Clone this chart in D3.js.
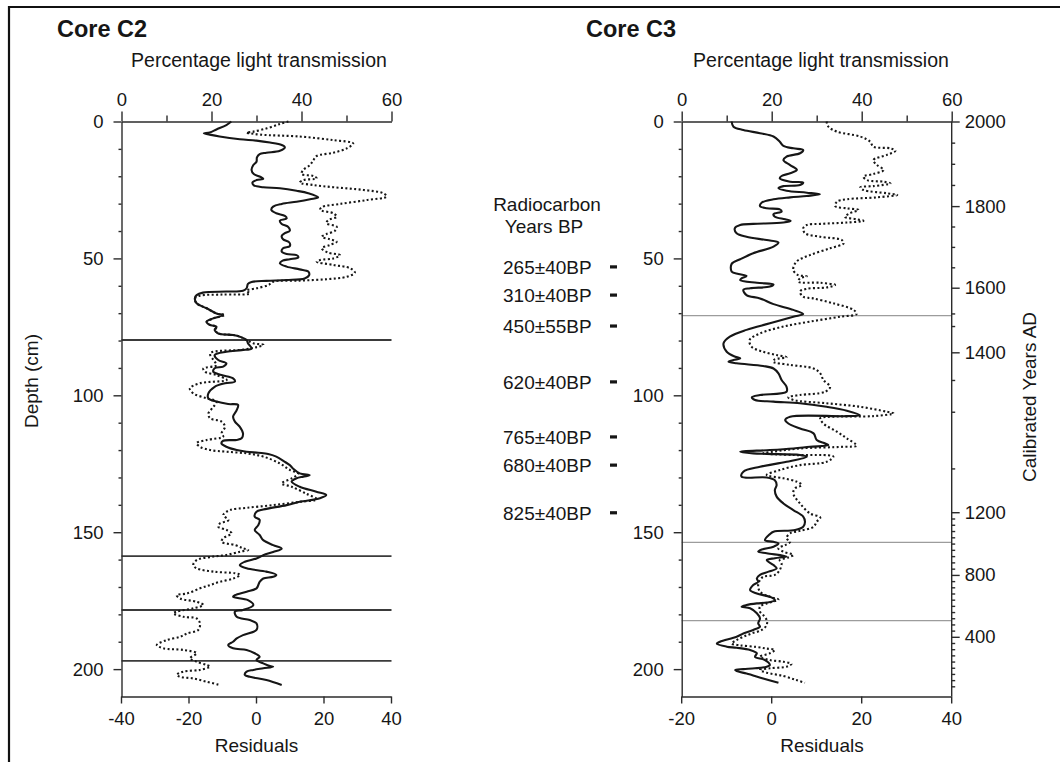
<!DOCTYPE html>
<html>
<head>
<meta charset="utf-8">
<title>Cores C2 and C3: light transmission profiles</title>
<script src="https://cdn.jsdelivr.net/npm/d3@7"></script>
<style>
  html, body { margin: 0; padding: 0; background: #fff; }
  svg { display: block; }
</style>
</head>
<body>
<svg id="chart" width="1060" height="762"></svg>
<script>
// ---------------------------------------------------------------
// Profiles: [depth (cm), value]
// Solid line = percentage light transmission (top axis)
// Dotted line = residuals (bottom axis)
// ---------------------------------------------------------------
const c2Transmission = [
  [0,24.4],[1.3,23.3],[2.9,21.1],[4.0,19.6],[4.3,18.3],[4.8,19.6],[5.5,21.8],[6.5,26.3],[7.0,30.0],[7.7,33.0],
  [8.6,35.6],[9.4,36.3],[10.7,35.2],[11.4,32.2],[11.9,30.7],[13.1,30.1],[14.7,30.0],[15.9,29.3],[17.7,28.9],[19.2,29.4],
  [20.1,30.7],[20.9,31.5],[21.4,30.0],[22.3,29.1],[23.3,29.4],[24.0,31.5],[24.4,35.2],[25.3,38.9],[26.2,41.5],[27.7,43.7],
  [28.4,41.9],[29.3,38.9],[30.1,35.6],[31.1,33.7],[32.3,33.3],[33.5,34.4],[34.5,36.3],[35.4,36.7],[36.2,35.2],[37.4,35.6],
  [38.4,37.0],[39.9,37.4],[40.8,36.3],[41.8,35.6],[43.0,35.9],[44.2,37.3],[45.5,37.4],[46.3,35.9],[47.5,35.6],[48.4,36.7],
  [48.8,38.9],[49.6,39.3],[50.3,37.4],[50.8,35.8],[51.8,35.2],[53.0,36.7],[54.0,39.6],[54.8,41.5],[56.1,41.7],[57.3,40.7],
  [57.9,36.7],[58.2,32.2],[58.6,28.9],[59.3,28.1],[60.9,27.8],[61.8,27.0],[62.1,23.3],[62.5,18.1],[63.4,16.7],[64.6,16.3],
  [66.4,16.7],[68.2,18.9],[70.1,21.1],[70.7,22.6],[71.9,20.4],[73.1,18.9],[74.3,19.6],[74.9,21.1],[76.2,20.7],[77.4,21.5],
  [78.0,24.8],[78.6,26.3],[79.8,27.8],[81.0,28.1],[82.9,28.9],[83.5,26.7],[84.1,23.3],[85.3,20.7],[87.1,21.5],[88.3,23.3],
  [89.5,22.6],[90.1,20.7],[91.4,20.4],[92.6,22.2],[93.8,24.8],[95.0,25.2],[95.6,23.0],[96.9,20.7],[99.3,19.3],[101.1,19.3],
  [102.3,21.1],[103.2,23.7],[103.5,25.9],[105.4,25.6],[107.8,24.8],[109.6,25.2],[111.5,26.3],[113.9,27.0],[115.7,26.7],[116.3,25.6],
  [116.6,22.6],[117.5,22.2],[118.8,23.3],[120.0,25.6],[120.6,27.8],[121.0,30.4],[121.4,32.6],[122.4,34.4],[124.3,36.3],[125.5,37.4],
  [126.7,38.1],[128.5,39.6],[129.2,41.8],[129.7,40.4],[130.3,38.9],[131.5,37.8],[133.4,39.6],[135.2,43.3],[136.4,45.5],[137.6,44.1],
  [138.9,39.6],[140.1,36.7],[141.7,31.5],[142.5,30.0],[144.3,29.6],[145.5,30.7],[147.4,30.4],[149.2,29.6],[151.0,30.7],[152.9,31.5],
  [154.7,33.7],[156.0,35.6],[157.2,33.7],[158.4,31.5],[159.6,30.0],[160.8,27.4],[162.0,26.3],[163.2,27.8],[164.4,32.2],[165.6,34.4],
  [166.3,33.7],[166.9,31.5],[168.1,30.7],[170.5,30.0],[171.7,27.8],[173.0,25.2],[173.6,24.8],[174.8,28.1],[176.6,29.3],[178.4,27.0],
  [179.0,25.2],[180.9,25.6],[182.1,28.5],[183.3,30.0],[185.7,30.0],[187.6,27.0],[188.8,25.6],[190.0,24.8],[191.2,23.7],[192.4,24.8],
  [193.0,27.8],[194.2,29.6],[195.5,30.7],[196.7,30.0],[197.9,31.5],[198.9,33.0],[199.1,33.7],[199.7,31.5],[200.3,29.3],[200.9,27.8],
  [202.1,27.4],[202.8,28.5],[204.0,32.2],[205.8,35.6]
];

const c2Residuals = [
  [0,9.6],[0.9,7.1],[2.5,3.2],[3.7,-0.8],[4.1,-2.8],[4.3,-1.8],[4.8,1.2],[5.5,13.0],[6.8,22.9],[8.0,28.8],
  [9.8,26.9],[11.4,22.9],[12.6,18.0],[14.1,17.0],[15.9,16.0],[17.7,14.0],[19.2,13.5],[19.9,17.0],[20.8,18.0],[21.4,14.0],
  [22.3,13.0],[23.2,17.0],[24.0,22.9],[25.0,31.8],[26.2,37.7],[27.4,38.7],[28.7,32.8],[30.1,24.9],[31.3,19.5],[32.3,19.0],
  [33.5,22.9],[34.8,23.9],[36.0,21.4],[37.2,20.9],[38.4,23.9],[39.9,23.4],[41.1,20.9],[42.1,19.5],[43.0,21.9],[43.9,23.9],
  [45.1,21.9],[46.3,19.5],[47.9,21.4],[48.8,24.9],[50.0,22.9],[50.6,19.0],[51.2,18.0],[52.4,22.9],[53.6,27.9],[55.2,29.3],
  [56.7,26.9],[57.6,20.9],[58.1,13.0],[58.5,5.1],[59.7,3.7],[60.9,0.2],[61.8,-2.8],[62.8,-1.8],[63.2,-10.0],[63.6,-16.6],
  [64.6,-18.1],[66.4,-17.6],[68.2,-14.6],[70.1,-11.7],[70.6,-9.2],[71.9,-12.6],[73.1,-14.6],[74.3,-13.6],[74.9,-11.7],[76.2,-12.1],
  [77.4,-11.2],[78.0,-6.7],[78.6,-4.7],[79.8,-2.8],[81.0,-0.8],[81.6,2.2],[82.4,0.2],[83.3,-3.8],[84.7,-13.6],[87.1,-12.6],
  [89.0,-11.7],[90.2,-15.6],[91.4,-15.1],[92.6,-11.7],[94.4,-8.7],[95.6,-16.6],[97.5,-19.6],[99.3,-18.6],[101.1,-14.6],[102.3,-11.7],
  [104.2,-12.6],[106.6,-14.1],[108.4,-13.6],[109.6,-10.2],[111.5,-9.2],[113.9,-10.2],[115.1,-9.7],[116.3,-14.6],[117.5,-17.6],[118.8,-16.6],
  [120.0,-13.6],[120.6,-8.7],[121.2,-2.8],[122.4,2.2],[124.9,7.1],[127.3,10.1],[128.6,12.5],[130.3,10.6],[132.2,7.6],[133.4,10.6],
  [136.0,15.0],[138.0,18.0],[138.9,13.0],[140.1,5.1],[141.1,-2.8],[141.9,-7.7],[143.7,-9.7],[145.6,-8.2],[146.8,-10.7],[148.0,-11.2],
  [149.2,-8.7],[150.4,-7.2],[152.2,-9.7],[153.5,-10.2],[154.7,-6.2],[155.9,-3.8],[156.5,-2.3],[157.1,-4.7],[158.3,-8.7],[158.9,-12.6],
  [160.2,-17.6],[162.0,-18.6],[163.2,-17.6],[164.4,-12.6],[165.0,-6.2],[165.6,-4.7],[166.9,-6.7],[168.1,-10.7],[169.3,-13.6],[170.5,-16.6],
  [172.4,-20.5],[173.0,-23.5],[174.2,-22.5],[175.4,-17.6],[176.6,-15.6],[177.8,-18.6],[179.0,-23.5],[179.6,-24.5],[180.9,-21.5],[181.5,-17.6],
  [183.3,-16.6],[185.7,-17.1],[187.0,-20.5],[188.2,-22.5],[189.4,-26.5],[191.2,-29.4],[192.4,-27.5],[193.0,-21.5],[194.2,-17.6],[196.1,-19.6],
  [197.3,-17.6],[198.5,-14.6],[199.1,-13.6],[200.3,-16.6],[200.9,-21.5],[202.1,-23.5],[202.8,-22.5],[203.4,-18.6],[204.6,-14.6],[205.8,-10.7]
];

const c3Transmission = [
  [0,11.1],[1.9,11.5],[3.1,13.7],[4.3,17.4],[5.5,20.4],[7.4,21.8],[8.9,22.6],[9.8,24.8],[10.4,27.0],[11.6,26.3],
  [12.8,23.3],[14.1,22.6],[15.9,24.1],[17.7,25.6],[18.9,24.1],[19.9,22.2],[20.8,21.8],[22.0,24.1],[22.3,27.0],[23.2,26.3],
  [23.6,22.6],[24.4,21.5],[25.3,23.3],[26.0,27.8],[26.6,30.7],[27.2,27.8],[27.7,24.1],[28.4,20.4],[29.6,17.8],[30.9,17.4],
  [31.7,18.9],[32.1,21.8],[32.9,22.2],[33.8,20.4],[34.8,20.7],[35.7,23.0],[36.3,24.2],[36.9,22.6],[37.4,15.9],[37.8,13.0],
  [39.0,11.8],[40.8,12.2],[42.1,14.4],[43.3,18.9],[44.2,21.5],[45.7,20.4],[48.1,15.9],[50.3,13.0],[52.0,11.1],[54.8,11.1],
  [55.7,12.6],[56.4,14.4],[57.3,13.3],[57.9,13.0],[58.9,16.7],[59.5,20.4],[60.3,19.6],[60.9,15.2],[61.5,13.7],[63.4,14.4],
  [64.6,17.4],[66.7,20.4],[68.8,24.8],[70.3,27.0],[71.3,24.8],[73.7,19.6],[76.1,14.4],[78.6,10.7],[81.0,9.3],[84.1,10.0],
  [85.9,11.9],[86.5,13.0],[87.1,11.5],[87.7,10.4],[88.3,12.2],[89.3,18.1],[90.2,20.4],[92.0,21.5],[94.4,22.2],[96.9,23.3],
  [98.7,23.3],[99.9,17.4],[100.7,15.6],[101.7,16.3],[102.3,20.4],[102.9,26.3],[104.2,32.2],[105.6,36.7],[107.2,39.6],[107.6,36.7],
  [107.8,24.1],[109.0,23.0],[110.3,23.7],[112.1,26.3],[113.9,29.3],[116.3,30.0],[117.6,31.9],[118.2,32.6],[118.8,28.5],[119.4,24.8],
  [120.0,19.6],[120.6,13.0],[121.2,15.9],[121.4,18.9],[121.8,26.3],[122.4,27.8],[124.3,23.3],[126.1,17.4],[127.9,13.7],[129.7,13.3],
  [130.0,18.9],[131.0,20.7],[132.8,21.1],[134.6,20.7],[137.0,21.1],[139.5,22.6],[141.9,24.8],[144.3,27.0],[146.2,27.4],[148.0,27.0],
  [149.2,25.2],[149.8,20.4],[150.7,19.6],[152.9,18.5],[153.5,20.4],[154.1,21.5],[155.3,20.4],[156.3,17.8],[157.1,17.0],[157.7,18.9],
  [158.9,23.3],[159.5,20.7],[160.2,18.9],[162.0,20.4],[163.2,21.1],[164.4,19.3],[165.6,17.4],[166.9,16.7],[168.1,17.0],[169.3,15.9],
  [171.1,15.2],[172.4,16.7],[173.6,19.6],[174.8,20.7],[175.7,18.9],[176.0,16.7],[176.6,14.4],[177.2,13.3],[177.8,15.2],[179.6,16.7],
  [181.5,17.4],[183.3,17.0],[184.5,17.4],[185.7,15.9],[187.0,13.7],[188.2,12.2],[190.0,8.5],[190.7,7.8],[191.8,10.0],[192.2,12.2],
  [193.0,15.2],[194.2,16.7],[195.5,16.3],[196.7,18.5],[198.5,19.6],[199.1,18.9],[199.7,16.3],[200.0,13.7],[200.3,11.9],[200.9,12.6],
  [201.6,14.4],[203.4,18.1],[205.0,21.5]
];

const c3Residuals = [
  [0,12.3],[1.9,12.7],[3.7,14.6],[5.5,19.8],[7.4,22.0],[9.2,22.7],[9.8,26.5],[10.7,27.6],[12.2,25.7],[14.1,22.7],
  [15.9,23.5],[17.7,25.0],[19.2,22.7],[20.1,20.5],[21.4,21.3],[22.0,25.0],[22.6,26.5],[23.6,22.7],[24.0,19.8],[25.0,20.5],
  [26.2,25.7],[26.8,28.0],[27.7,23.5],[28.4,16.8],[29.3,14.6],[30.9,14.2],[31.7,16.8],[32.3,19.4],[33.5,17.5],[34.8,16.4],
  [35.7,19.0],[36.3,20.5],[36.9,16.8],[37.4,10.9],[37.8,7.9],[39.0,7.1],[40.8,7.5],[42.1,10.9],[43.3,15.7],[44.5,16.1],
  [46.3,13.1],[48.8,8.6],[51.2,5.6],[54.2,4.9],[56.1,6.0],[56.5,7.9],[57.3,6.4],[58.5,6.0],[58.9,10.9],[59.7,14.2],
  [60.6,12.3],[61.1,7.9],[62.1,6.4],[64.0,7.1],[64.6,9.3],[66.4,13.8],[68.8,18.3],[70.3,19.0],[71.3,15.3],[73.1,8.6],
  [74.9,2.7],[77.4,-2.5],[79.8,-4.8],[82.2,-4.4],[84.1,-1.8],[85.3,1.2],[86.1,3.4],[86.9,0.8],[87.7,0.4],[88.9,4.2],
  [90.2,9.4],[92.0,10.9],[94.4,11.6],[96.9,13.1],[98.7,12.0],[99.9,6.4],[100.7,3.8],[101.7,4.9],[102.9,12.3],[104.2,19.8],
  [106.0,25.7],[106.6,27.2],[107.6,22.7],[107.8,13.8],[108.4,10.9],[110.3,11.6],[113.3,14.6],[115.7,16.8],[118.4,19.0],[118.8,16.1],
  [119.4,6.4],[120.6,0.4],[121.2,-1.8],[121.8,4.9],[122.4,13.8],[124.3,12.3],[125.5,6.4],[127.3,1.9],[129.1,-1.0],[130.3,2.7],
  [131.5,5.6],[132.8,6.8],[134.0,5.3],[135.8,4.9],[139.5,6.4],[143.1,8.6],[144.6,10.9],[146.2,10.1],[148.0,9.4],[149.5,6.4],
  [150.4,4.2],[152.2,3.4],[153.5,4.2],[154.7,3.1],[155.9,1.6],[157.1,2.7],[158.3,4.9],[159.2,3.8],[160.2,1.9],[161.4,2.3],
  [163.8,1.9],[165.6,0.8],[166.3,-1.8],[167.5,-2.5],[169.3,-2.9],[171.7,-2.5],[173.6,-0.3],[174.6,1.6],[176.0,-1.0],[177.2,-2.5],
  [179.0,-2.5],[180.2,-1.8],[182.1,-1.0],[183.9,-1.0],[185.7,-2.1],[187.0,-4.4],[188.2,-6.2],[189.4,-7.7],[190.7,-8.8],[191.3,-7.0],
  [191.9,-3.3],[192.5,-1.0],[193.0,0.8],[194.2,-0.3],[195.5,-2.5],[196.7,-0.3],[197.3,2.7],[198.1,4.5],[199.1,3.4],[199.7,-0.3],
  [200.3,-2.5],[201.3,-1.0],[202.5,2.7],[204.0,5.6],[205.0,7.5]
];

// Axis ticks
const depthTicks = [0, 50, 100, 150, 200];
const depthMinorTicks = [10, 20, 30, 40, 60, 70, 80, 90, 110, 120, 130, 140, 160, 170, 180, 190];
const transmissionTicks = [0, 20, 40, 60];
const transmissionMinorTicks = [10, 30, 50];
const c2ResidualTicks = [-40, -20, 0, 20, 40];
const c3ResidualTicks = [-20, 0, 20, 40];

// Horizontal marker horizons (depth, cm)
const c2Horizons = [79.8, 158.7, 178.4, 197.0];
const c3Horizons = [70.9, 153.7, 182.3];

// Radiocarbon dates and their sample depths in core C3
const radiocarbonLabels = ["265±40BP", "310±40BP", "450±55BP", "620±40BP", "765±40BP", "680±40BP", "825±40BP"];
const radiocarbonDepths = [53.1, 63.4, 74.7, 95.1, 115.2, 125.5, 142.9];

// Calibrated age-depth relation for core C3 (years AD -> depth cm)
const calYears  = [2000, 1800, 1600, 1500, 1450, 1400, 1350, 1300, 1250, 1200, 800, 400];
const calDepths = [0, 30.9, 60.7, 70.1, 74.7, 84.3, 94.4, 106.0, 126.7, 142.7, 165.6, 188.2];
const calLabelYears = [2000, 1800, 1600, 1400, 1200, 800, 400];
const calMinorYears = [1950, 1900, 1850, 1750, 1700, 1650, 1500, 1450, 1350, 1300, 1250]
  .concat(d3.range(1160, 800, -40), d3.range(760, 400, -40), d3.range(360, 40, -40));

// ---------------------------------------------------------------
const FONT = '"Liberation Sans", Arial, Helvetica, sans-serif';
const INK = "#161616";
const AXIS = "#2b2b2b";
const plain = d => String(d);   // hyphen-minus labels, e.g. "-40"
const svg = d3.select("#chart");

// outer frame (top and left edges)
svg.append("path")
  .attr("d", "M9,762V7H1060")
  .attr("fill", "none").attr("stroke", "#111").attr("stroke-width", 2.2);

function styleAxis(g, size) {
  g.attr("font-family", FONT).attr("font-size", size);
  g.selectAll("path, line").attr("stroke", AXIS).attr("stroke-width", 1.4);
  g.selectAll("text").attr("fill", INK);
  return g;
}

function drawCore(p) {
  const y = d3.scaleLinear().domain([0, 210]).range([121.5, 696.5]);
  const xT = d3.scaleLinear().domain([0, 60]).range([p.left, p.left + 270]);
  const xR = d3.scaleLinear().domain(p.residualDomain).range([p.left - 0.5, p.left + 269.5]);
  const g = svg.append("g");

  // horizons
  g.append("g").selectAll("line").data(p.horizons).join("line")
    .attr("x1", xT(0)).attr("x2", xT(60))
    .attr("y1", d => y(d)).attr("y2", d => y(d))
    .attr("stroke", p.horizonColor).attr("stroke-width", p.horizonWidth);

  // top axis: percentage light transmission
  styleAxis(g.append("g").attr("transform", `translate(0,${y(0)})`)
    .call(d3.axisTop(xT).tickValues(transmissionTicks).tickSize(10).tickPadding(6).tickSizeOuter(0).tickFormat(plain)), 18.5);
  styleAxis(g.append("g").attr("transform", `translate(0,${y(0)})`)
    .call(d3.axisTop(xT).tickValues(transmissionMinorTicks).tickSize(6).tickFormat("")), 18.5)
    .select(".domain").remove();

  // left axis: depth
  styleAxis(g.append("g").attr("transform", `translate(${xT(0)},0)`)
    .call(d3.axisLeft(y).tickValues(depthTicks).tickSize(8).tickPadding(10).tickSizeOuter(0).tickFormat(plain)), 18.5);
  styleAxis(g.append("g").attr("transform", `translate(${xT(0)},0)`)
    .call(d3.axisLeft(y).tickValues(depthMinorTicks).tickSize(3).tickFormat("")), 18.5)
    .select(".domain").remove();

  // bottom axis: residuals
  styleAxis(g.append("g").attr("transform", `translate(0,${y(210)})`)
    .call(d3.axisBottom(xR).tickValues(p.residualTicks).tickSize(7).tickPadding(8).tickSizeOuter(0)
      .tickFormat(plain)), 18.5);

  // titles
  g.append("text").attr("x", p.titleX).attr("y", 36.5)
    .attr("font-family", FONT).attr("font-size", 23.5).attr("font-weight", "bold").attr("fill", INK)
    .text(p.title);
  g.append("text").attr("x", p.topTitleX).attr("y", 67)
    .attr("text-anchor", "middle").attr("font-family", FONT).attr("font-size", 19.5).attr("fill", INK)
    .text("Percentage light transmission");
  g.append("text").attr("x", p.bottomTitleX).attr("y", 751.5)
    .attr("text-anchor", "middle").attr("font-family", FONT).attr("font-size", 19).attr("fill", INK)
    .text("Residuals");

  // profiles
  const curve = d3.curveCatmullRom.alpha(0.5);
  const residualLine = d3.line().x(d => xR(d[1])).y(d => y(d[0])).curve(curve);
  const transmissionLine = d3.line().x(d => xT(d[1])).y(d => y(d[0])).curve(curve);

  g.append("path").datum(p.residuals)
    .attr("d", residualLine)
    .attr("fill", "none").attr("stroke", INK).attr("stroke-width", 2.1)
    .attr("stroke-dasharray", "2 2.4");
  g.append("path").datum(p.transmission)
    .attr("d", transmissionLine)
    .attr("fill", "none").attr("stroke", INK).attr("stroke-width", 2.1)
    .attr("stroke-linejoin", "round");

  return { y, xT, xR, g };
}

// ---- Core C2 ----
const c2 = drawCore({
  left: 121.5, residualDomain: [-40, 40], residualTicks: c2ResidualTicks,
  horizons: c2Horizons, horizonColor: "#3a3a3a", horizonWidth: 1.8,
  transmission: c2Transmission, residuals: c2Residuals,
  title: "Core C2", titleX: 57, topTitleX: 259, bottomTitleX: 256.5
});

svg.append("text")
  .attr("transform", "translate(38,381) rotate(-90)")
  .attr("text-anchor", "middle").attr("font-family", FONT).attr("font-size", 19).attr("fill", INK)
  .text("Depth (cm)");

// ---- Core C3 ----
const c3 = drawCore({
  left: 681.7, residualDomain: [-20, 40], residualTicks: c3ResidualTicks,
  horizons: c3Horizons, horizonColor: "#9c9c9c", horizonWidth: 1.4,
  transmission: c3Transmission, residuals: c3Residuals,
  title: "Core C3", titleX: 586, topTitleX: 821, bottomTitleX: 822
});

// right axis: calibrated years AD (piecewise age-depth scale)
const calScale = d3.scaleLinear().domain(calYears).range(calDepths.map(c3.y));
const rightX = c3.xT(60);
const rightAxis = c3.g.append("g").attr("transform", `translate(${rightX},0)`);
rightAxis.append("line")
  .attr("x1", 0).attr("x2", 0).attr("y1", c3.y(0)).attr("y2", c3.y(210))
  .attr("stroke", AXIS).attr("stroke-width", 1.4);
styleAxis(rightAxis.append("g")
  .call(d3.axisRight(calScale).tickValues(calLabelYears).tickSize(8).tickPadding(5).tickFormat(plain)), 18.5)
  .select(".domain").remove();
styleAxis(rightAxis.append("g")
  .call(d3.axisRight(calScale).tickValues(calMinorYears).tickSize(3.5).tickFormat("")), 18.5)
  .select(".domain").remove();

svg.append("text")
  .attr("transform", "translate(1036,397) rotate(-90)")
  .attr("text-anchor", "middle").attr("font-family", FONT).attr("font-size", 19).attr("fill", INK)
  .text("Calibrated Years AD");

// radiocarbon column
const rc = svg.append("g").attr("font-family", FONT).attr("fill", INK);
rc.append("text").attr("x", 547).attr("y", 211).attr("text-anchor", "middle").attr("font-size", 19).text("Radiocarbon");
rc.append("text").attr("x", 544).attr("y", 233).attr("text-anchor", "middle").attr("font-size", 19).text("Years BP");
rc.selectAll("text.date").data(radiocarbonLabels).join("text")
  .attr("class", "date")
  .attr("x", 503).attr("y", (d, i) => c3.y(radiocarbonDepths[i]) + 6.8)
  .attr("font-size", 19)
  .text(d => d);
rc.selectAll("rect").data(radiocarbonDepths).join("rect")
  .attr("x", 610).attr("width", 7)
  .attr("y", d => c3.y(d) - 1.6).attr("height", 3.2)
  .attr("fill", INK);
</script>
</body>
</html>
